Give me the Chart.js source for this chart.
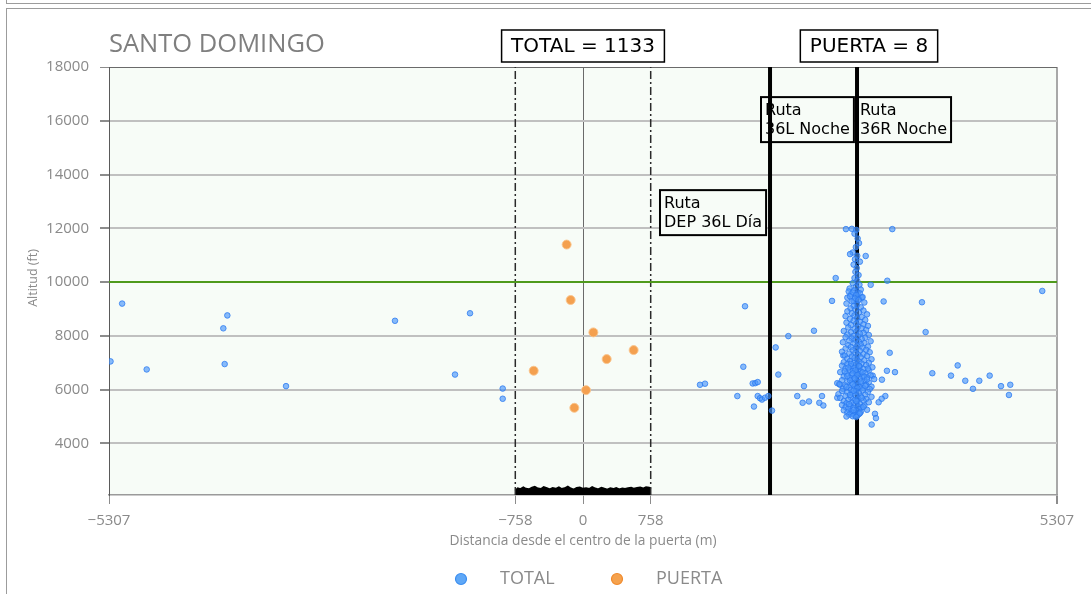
<!DOCTYPE html>
<html>
<head>
<meta charset="utf-8">
<script src="https://cdn.jsdelivr.net/npm/chart.js@4.4.1/dist/chart.umd.min.js"></script>
<style>
  html, body { margin: 0; padding: 0; background: #fff; overflow: hidden; }
  .marco { position: absolute; left: 6px; width: 1200px; border: 1.5px solid #9c9c9c; }
  #marcoArriba { top: -20px; height: 22px; }
  #marcoAbajo { top: 8px; height: 700px; }
  #grafico { position: absolute; left: 0; top: 0; }
</style>
</head>
<body>
<div class="marco" id="marcoArriba"></div>
<div class="marco" id="marcoAbajo"></div>
<canvas id="grafico" width="1091" height="594"></canvas>
<script>
// ejes
const limitesX = [-5307, 5307];
const limitesY = [2080, 18000];
const ticksX = [-5307, -758, 0, 758, 5307];
const ticksY = [4000, 6000, 8000, 10000, 12000, 14000, 16000, 18000];

// referencias
const nivelVerde = 10000;
const bordePuerta = [-758, 758];
const pista36LNoche = 2094;
const pista36RNoche = 3068;

// PUERTA (8)
const puerta = [
  [-183, 11395], [-138, 9333], [116, 8129], [567, 7470],
  [265, 7135], [-552, 6702], [34, 5980], [-97, 5323]
];

// TOTAL: puntos sueltos
const totalDispersos = [
  [-5290, 7050], [-5160, 9200], [-4885, 6750], [-4027, 8280], [-3982, 8760], [-4012, 6950],
  [-3325, 6130], [-2105, 8560], [-1265, 8840], [-1433, 6560], [-899, 6040], [-899, 5660],
  [1310, 6180], [1366, 6220], [1814, 9100], [1795, 6850], [1728, 5760], [1900, 6230],
  [1929, 6240], [1956, 6280], [1914, 5370], [1956, 5760], [1982, 5680], [2004, 5630],
  [2038, 5700], [2075, 5760], [2116, 5220], [2157, 7570], [2187, 6560], [2299, 7990],
  [2586, 8190], [2399, 5760], [2474, 6130], [2459, 5510], [2530, 5560], [2646, 5510],
  [2676, 5760], [2691, 5410], [2829, 10150], [2788, 9300], [2847, 6240], [2877, 6180],
  [2847, 5700], [2944, 11970], [2914, 7270], [3463, 11970], [3165, 10970], [3221, 9900],
  [3407, 10050], [3366, 9280], [3795, 9250], [3836, 8140], [3434, 7370], [3403, 6700],
  [3493, 6650], [3347, 6370], [3243, 6520], [3911, 6610], [4120, 6520], [4195, 6900],
  [4280, 6330], [4366, 6030], [4437, 6330], [4553, 6520], [4680, 6130], [4784, 6180],
  [4769, 5800], [5142, 9670], [3385, 5760], [3344, 5660], [3310, 5530], [3269, 5100],
  [3280, 4940], [3232, 4700]
];

// TOTAL: nube junto a la pista 36R
const totalNucleo = [
  [3010, 11980], [3060, 11940], [3040, 11800], [3075, 11620], [3090, 11450], [3055, 11300],
  [3020, 11100], [2990, 11040], [3070, 10980], [3045, 10850], [3100, 10760], [3030, 10650],
  [3065, 10520], [3050, 10380], [3085, 10260], [3040, 10150], [3070, 10050], [3020, 9960],
  [3095, 9900], [3055, 9820], [2985, 9760], [3110, 9720], [3035, 9690], [3075, 9600],
  [3000, 9540], [3060, 9480], [3120, 9430], [2960, 9420], [3090, 9360], [3030, 9300],
  [2975, 9650], [3020, 9610], [3100, 9580], [3060, 9520], [2990, 9470], [3130, 9440],
  [3045, 9390], [3085, 9330], [3010, 9280], [3150, 9240], [2950, 9200], [3070, 9160],
  [3030, 9110], [3110, 9060], [2995, 9020],
  [3050, 8980], [3140, 8940], [2960, 8910], [3090, 8870], [3010, 8840], [3180, 8800],
  [3040, 8760], [2940, 8730], [3120, 8700], [3070, 8660], [2990, 8630], [3160, 8590],
  [3030, 8560], [3100, 8520], [2950, 8490], [3060, 8460], [3140, 8430], [3000, 8400],
  [3190, 8370], [3080, 8340], [2970, 8310], [3120, 8280], [3040, 8250], [3170, 8220],
  [2920, 8180], [3060, 8160], [3000, 8130], [3140, 8110], [3100, 8080], [2960, 8050],
  [3200, 8030], [3030, 8000], [3080, 7980], [2940, 7950], [3160, 7930], [3010, 7900],
  [3120, 7880], [3050, 7850], [2980, 7820], [3220, 7800], [3090, 7780], [2910, 7760],
  [3150, 7730], [3040, 7710], [3110, 7680], [2970, 7650], [3070, 7630], [3190, 7600],
  [3000, 7580], [3130, 7560], [2940, 7530], [3060, 7510], [3170, 7480], [3020, 7460],
  [3100, 7440], [2900, 7410], [3210, 7390], [3050, 7370], [2980, 7340], [3140, 7320],
  [3080, 7300], [2930, 7270], [3180, 7250], [3010, 7230], [3110, 7200], [3040, 7180],
  [2960, 7150], [3230, 7130], [3070, 7110], [3150, 7090], [2990, 7060], [3090, 7040],
  [2920, 7020], [3200, 7000],
  [3030, 6990], [3120, 6970], [2960, 6950], [3060, 6930], [3170, 6910], [2900, 6890],
  [3000, 6870], [3100, 6850], [3240, 6830], [3040, 6810], [2940, 6790], [3140, 6770],
  [3080, 6750], [2980, 6730], [3200, 6710], [3020, 6690], [3110, 6670], [2880, 6650],
  [3060, 6630], [3160, 6610], [2950, 6590], [3090, 6570], [3010, 6550], [3220, 6530],
  [3130, 6510], [2920, 6490], [3050, 6470], [3180, 6450], [2990, 6430], [3100, 6410],
  [3260, 6390], [3030, 6370], [2900, 6350], [3150, 6330], [3070, 6310], [2960, 6290],
  [3200, 6270], [3010, 6250], [3120, 6230], [2870, 6210], [3080, 6190], [3170, 6170],
  [2940, 6150], [3040, 6130], [3230, 6110], [3100, 6090], [2980, 6070], [3140, 6050],
  [2910, 6030], [3060, 6010], [3000, 6960], [3090, 6880], [2970, 6820], [3190, 6780],
  [3050, 6720], [2930, 6680], [3130, 6640], [3020, 6600], [3070, 6540], [2960, 6500],
  [3150, 6480], [3040, 6420], [3180, 6380], [2990, 6340], [3110, 6300], [3020, 6200],
  [3160, 6140], [2950, 6100], [3070, 6060], [3210, 6020],
  [3000, 5990], [3130, 5970], [2900, 5950], [3060, 5930], [3190, 5910], [2960, 5890],
  [3090, 5870], [3020, 5850], [2860, 5830], [3160, 5810], [3050, 5790], [2940, 5770],
  [3110, 5750], [3230, 5730], [3000, 5710], [2880, 5690], [3080, 5670], [3170, 5650],
  [2970, 5630], [3040, 5610], [3140, 5590], [2920, 5570], [3070, 5550], [3200, 5530],
  [3010, 5510], [2950, 5490], [3100, 5470], [3050, 5450], [2900, 5430], [3150, 5410],
  [2990, 5390], [3080, 5370], [2940, 5350], [3120, 5330], [3030, 5310], [2970, 5290],
  [3090, 5270], [3180, 5250], [2920, 5230], [3060, 5210], [3000, 5190], [3110, 5170],
  [2960, 5150], [3050, 5130], [3010, 5110], [3090, 5090], [2980, 5070], [3040, 5050],
  [3070, 5030], [3020, 5010], [3030, 5960], [2990, 5800], [3120, 5700], [3060, 5580],
  [2980, 5460], [3140, 5360], [3030, 5240], [3100, 5120], [2950, 5000], [3060, 4980]
];

// trazas en tierra dentro de la puerta
const sueloX = [-758, -730, -700, -668, -640, -605, -570, -540, -505, -470, -440, -405, -372, -340, -305, -270,
  -238, -205, -170, -138, -104, -70, -36, 0, 34, 70, 103, 138, 170, 206, 240, 272, 306, 340, 372, 405, 440,
  472, 506, 540, 572, 606, 640, 672, 706, 740, 758];
const sueloY = [2240, 2330, 2300, 2360, 2310, 2290, 2350, 2380, 2320, 2300, 2370, 2330, 2290, 2340, 2310, 2360,
  2300, 2330, 2390, 2320, 2280, 2340, 2360, 2310, 2330, 2300, 2370, 2320, 2290, 2350, 2310, 2280, 2330, 2300,
  2340, 2290, 2320, 2300, 2330, 2350, 2310, 2340, 2360, 2320, 2370, 2350, 2300];

// cajas de texto (esquina superior izquierda en unidades de datos)
const cajasRuta = [
  { lineas: ['Ruta', '36L Noche'], x: 1993, y: 16880 },
  { lineas: ['Ruta', '36R Noche'], x: 3056, y: 16880 },
  { lineas: ['Ruta', 'DEP 36L Día'], x: 862, y: 13420 }
];
const cajasArriba = [
  { texto: 'TOTAL = 1133', x: 0 },
  { texto: 'PUERTA = 8', x: 3202 }
];

const gris = '#8a8a8a';
const fuente = '"Open Sans", "Noto Sans", sans-serif';
const fuenteCaja = '"DejaVu Sans", sans-serif';

const aPuntos = arr => arr.map(([x, y]) => ({ x, y }));
const vertical = x => [{ x, y: limitesY[0] }, { x, y: limitesY[1] }];
const conMenos = v => (v < 0 ? '\u2212' + Math.abs(v) : String(v));

function dibujaCaja(ctx, lineas, x, y, tam, alto, padH, padV, grosor, fondo) {
  ctx.font = tam + 'px ' + fuenteCaja;
  let ancho = 0;
  lineas.forEach(l => { ancho = Math.max(ancho, ctx.measureText(l).width); });
  const w = ancho + padH * 2, h = lineas.length * alto + padV * 2;
  ctx.fillStyle = fondo;
  ctx.fillRect(x, y, w, h);
  ctx.lineWidth = grosor;
  ctx.strokeStyle = '#000';
  ctx.strokeRect(x, y, w, h);
  ctx.fillStyle = '#000';
  ctx.textAlign = 'left';
  ctx.textBaseline = 'middle';
  lineas.forEach((l, i) => ctx.fillText(l, x + padH, y + padV + alto * i + alto / 2 + 1));
  return w;
}

const decoracion = {
  id: 'decoracion',
  beforeDraw(chart) {
    const { ctx, chartArea: a } = chart;
    ctx.save();
    ctx.fillStyle = '#f7fcf7';
    ctx.fillRect(a.left, a.top, a.right - a.left, a.bottom - a.top);
    ctx.restore();
  },
  beforeDatasetsDraw(chart) {
    const { ctx, scales: { x, y } } = chart;
    ctx.save();
    cajasRuta.forEach(c => {
      dibujaCaja(ctx, c.lineas, x.getPixelForValue(c.x), y.getPixelForValue(c.y), 16, 19, 4, 3.5, 2, '#f7fcf7');
    });
    ctx.restore();
  },
  afterDraw(chart) {
    const { ctx, chartArea: a, scales: { x } } = chart;
    ctx.save();

    // titulo
    ctx.fillStyle = '#7f7f7f';
    ctx.font = '25.5px ' + fuente;
    ctx.textAlign = 'left';
    ctx.textBaseline = 'alphabetic';
    ctx.fillText('SANTO DOMINGO', a.left, 52);

    // cajas sobre el grafico
    cajasArriba.forEach(c => {
      ctx.font = '20px ' + fuenteCaja;
      const w = ctx.measureText(c.texto).width + 19;
      dibujaCaja(ctx, [c.texto], x.getPixelForValue(c.x) - w / 2, a.top - 37, 20, 24, 9.5, 4, 1.5, '#fff');
    });

    // titulos de ejes
    ctx.fillStyle = gris;
    ctx.font = '13.8px ' + fuente;
    ctx.textAlign = 'center';
    ctx.textBaseline = 'middle';
    ctx.fillText('Distancia desde el centro de la puerta (m)', (a.left + a.right) / 2, 541);
    ctx.font = '12.5px ' + fuente;
    ctx.save();
    ctx.translate(33, 278);
    ctx.rotate(-Math.PI / 2);
    ctx.fillText('Altitud (ft)', 0, 0);
    ctx.restore();

    // leyenda
    const centro = (a.left + a.right) / 2;
    const items = [
      { t: 'TOTAL', c: '#5fa8f7', b: '#3b8ef0', dx: -122 },
      { t: 'PUERTA', c: '#f5a24e', b: '#f08a2c', dx: 34 }
    ];
    items.forEach(it => {
      ctx.beginPath();
      ctx.arc(centro + it.dx, 579, 5.5, 0, Math.PI * 2);
      ctx.fillStyle = it.c;
      ctx.fill();
      ctx.lineWidth = 1.2;
      ctx.strokeStyle = it.b;
      ctx.stroke();
      ctx.fillStyle = gris;
      ctx.font = '18px ' + fuente;
      ctx.textAlign = 'left';
      ctx.fillText(it.t, centro + it.dx + 39, 579);
    });
    ctx.restore();
  }
};

new Chart(document.getElementById('grafico'), {
  type: 'scatter',
  data: {
    datasets: [
      {
        label: 'PUERTA',
        data: aPuntos(puerta),
        backgroundColor: '#f4a04f',
        borderColor: 'rgba(250, 196, 140, 0.9)',
        borderWidth: 1,
        pointRadius: 4.5
      },
      {
        label: 'TOTAL',
        data: aPuntos(totalDispersos.concat(totalNucleo)),
        backgroundColor: 'rgba(75, 150, 250, 0.65)',
        borderColor: 'rgba(40, 120, 240, 0.75)',
        borderWidth: 1,
        pointRadius: 2.8
      },
      { type: 'line', data: vertical(pista36RNoche), borderColor: '#000', borderWidth: 4, pointRadius: 0 },
      { type: 'line', data: vertical(pista36LNoche), borderColor: '#000', borderWidth: 4, pointRadius: 0 },
      {
        type: 'line',
        data: [{ x: limitesX[0], y: nivelVerde }, { x: limitesX[1], y: nivelVerde }],
        borderColor: '#4f9a1c', borderWidth: 2, pointRadius: 0
      },
      { type: 'line', data: vertical(bordePuerta[0]), borderColor: '#2a2a2a', borderWidth: 1.5, borderDash: [8, 3, 2, 3], pointRadius: 0 },
      { type: 'line', data: vertical(bordePuerta[1]), borderColor: '#2a2a2a', borderWidth: 1.5, borderDash: [8, 3, 2, 3], pointRadius: 0 },
      {
        type: 'line',
        data: sueloX.map((x, i) => ({ x, y: sueloY[i] })),
        borderColor: '#000', backgroundColor: '#000', borderWidth: 2, pointRadius: 0, fill: 'start'
      }
    ]
  },
  options: {
    responsive: false,
    animation: false,
    events: [],
    layout: { padding: { left: 0, top: 67, right: 34, bottom: 54 } },
    plugins: { legend: { display: false }, tooltip: { enabled: false } },
    scales: {
      x: {
        type: 'linear',
        min: limitesX[0],
        max: limitesX[1],
        afterBuildTicks: s => { s.ticks = ticksX.map(v => ({ value: v })); },
        afterFit: s => { s.height = 45; },
        ticks: {
          callback: v => conMenos(v),
          autoSkip: false, maxRotation: 0, padding: 8,
          color: gris, font: { family: fuente, size: 15 }
        },
        grid: {
          color: c => (c.tick && c.tick.value === 0 ? '#6a6a6a' : (c.tick && c.tick.value === limitesX[1] ? '#a8a8a8' : 'rgba(0,0,0,0)')),
          lineWidth: c => (c.tick && c.tick.value === limitesX[1] ? 2 : 1),
          tickColor: '#8c8c8c',
          tickLength: 9
        },
        border: { color: '#9a9a9a', width: 1.5 }
      },
      y: {
        min: limitesY[0],
        max: limitesY[1],
        afterBuildTicks: s => { s.ticks = ticksY.map(v => ({ value: v })); },
        afterFit: s => { s.width = 109; },
        ticks: {
          callback: v => String(v),
          padding: 11,
          color: gris, font: { family: fuente, size: 15 }
        },
        grid: {
          color: c => (c.tick && c.tick.value === limitesY[1] ? '#6a6a6a' : '#c0c0c0'),
          lineWidth: c => (c.tick && c.tick.value === limitesY[1] ? 1 : 2),
          tickColor: '#8c8c8c',
          tickLength: 9
        },
        border: { color: '#5a5a5a', width: 1 }
      }
    }
  },
  plugins: [decoracion]
});
</script>
</body>
</html>
